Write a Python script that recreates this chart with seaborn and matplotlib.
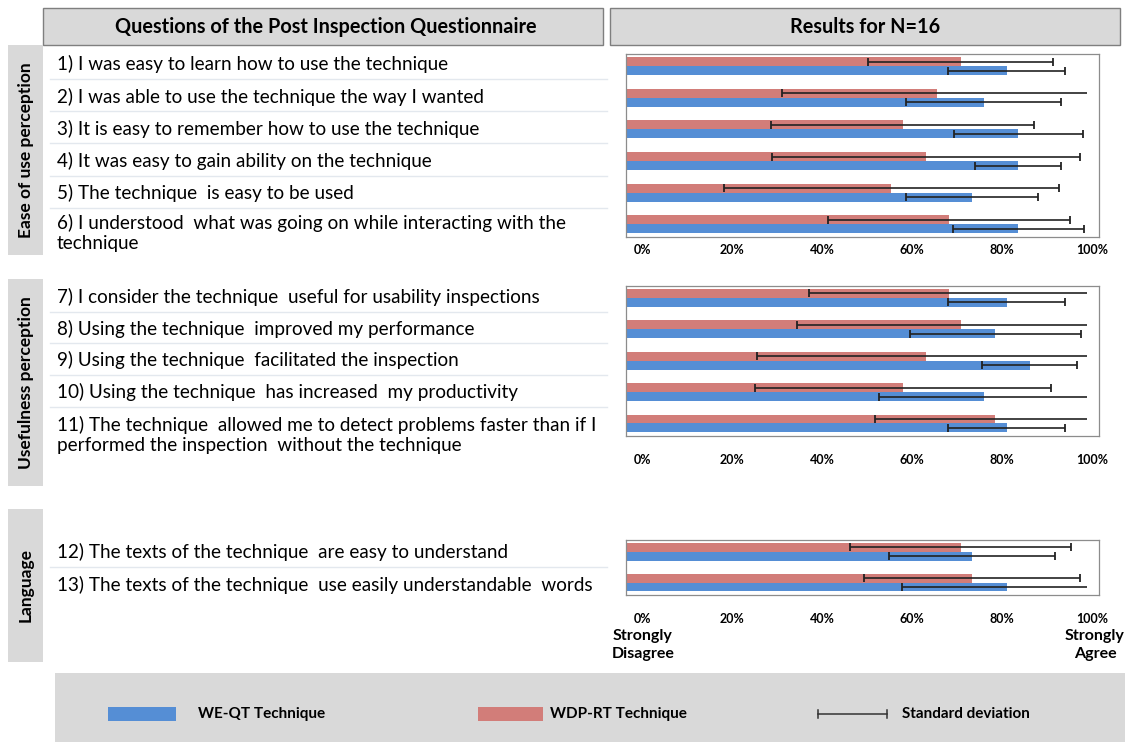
import numpy as np
import pandas as pd
import matplotlib
matplotlib.use("Agg")
import matplotlib.pyplot as plt
import matplotlib.transforms as mtransforms
from matplotlib.patches import Rectangle
from matplotlib.lines import Line2D
import seaborn as sns

# questions, grouped by perception category
questions = [
    "1) I was easy to learn how to use the technique",
    "2) I was able to use the technique the way I wanted",
    "3) It is easy to remember how to use the technique",
    "4) It was easy to gain ability on the technique",
    "5) The technique  is easy to be used",
    "6) I understood  what was going on while interacting with the\ntechnique",
    "7) I consider the technique  useful for usability inspections",
    "8) Using the technique  improved my performance",
    "9) Using the technique  facilitated the inspection",
    "10) Using the technique  has increased  my productivity",
    "11) The technique  allowed me to detect problems faster than if I\nperformed the inspection  without the technique",
    "12) The texts of the technique  are easy to understand",
    "13) The texts of the technique  use easily understandable  words",
]
groups = ["Ease of use perception", "Usefulness perception", "Language"]
group_sizes = [6, 5, 2]
techniques = ["WDP-RT Technique", "WE-QT Technique"]

we_qt_mean = [0.825, 0.775, 0.85, 0.85, 0.75, 0.85, 0.825, 0.80, 0.875, 0.775, 0.825, 0.75, 0.825]
we_qt_sd = [0.127, 0.168, 0.140, 0.093, 0.143, 0.142, 0.127, 0.185, 0.103, 0.226, 0.127, 0.179, 0.226]
wdp_rt_mean = [0.725, 0.675, 0.60, 0.65, 0.575, 0.70, 0.70, 0.725, 0.65, 0.60, 0.80, 0.725, 0.75]
wdp_rt_sd = [0.200, 0.337, 0.285, 0.334, 0.363, 0.263, 0.303, 0.355, 0.366, 0.321, 0.261, 0.239, 0.234]

tick_vals = [0, 0.2, 0.4, 0.6, 0.8, 1.0]
tick_labels = ["0%", "20%", "40%", "60%", "80%", "100%"]

RED = "#d27d79"
BLUE = "#558ed5"
GREY = "#d9d9d9"

group_col = np.repeat(groups, group_sizes)
df = pd.concat([
    pd.DataFrame({"question": questions, "group": group_col, "technique": techniques[0],
                  "mean": wdp_rt_mean, "sd": wdp_rt_sd}),
    pd.DataFrame({"question": questions, "group": group_col, "technique": techniques[1],
                  "mean": we_qt_mean, "sd": we_qt_sd}),
], ignore_index=True)

plt.rcParams['font.family'] = ['Lato', 'DejaVu Sans']

W, H = 1125, 742
fig = plt.figure(figsize=(W / 100, H / 100), dpi=100)


def fx(x):
    return x / W


def fy(y):
    return 1 - y / H


def box(x0, y0, x1, y1, fc, ec="none", lw=0):
    fig.add_artist(Rectangle((fx(x0), fy(y1)), fx(x1 - x0), (y1 - y0) / H,
                             transform=fig.transFigure, facecolor=fc, edgecolor=ec, linewidth=lw))


# headers
box(43, 8, 603, 45, GREY, "#7f7f7f", 1)
box(610, 8, 1120, 45, GREY, "#7f7f7f", 1)
fig.text(fx(326), fy(27), "Questions of the Post Inspection Questionnaire", ha="center", va="center",
         fontsize=14.3, fontweight="bold")
fig.text(fx(865), fy(27), "Results for N=16", ha="center", va="center", fontsize=14.3, fontweight="bold")

# category side boxes
side_boxes = [(45, 255), (279, 486), (509, 662)]
for g, (t, b) in zip(groups, side_boxes):
    box(8, t, 43, b, GREY)
    fig.text(fx(26), fy((t + b) / 2), g, rotation=90, ha="center", va="center",
             fontsize=12.5, fontweight="bold")

# question texts and separators
q_y = [64, 97, 129, 161, 193, 233, 297, 329, 360, 392, 435, 552, 585]
for q, y in zip(questions, q_y):
    fig.text(fx(57), fy(y), q, ha="left", va="center", fontsize=13.6, linespacing=1.25)
for y in [79, 111, 143, 176, 208, 312, 343, 375, 407, 567]:
    fig.add_artist(Line2D([fx(50), fx(607)], [fy(y), fy(y)], transform=fig.transFigure,
                          color="#e3e8ee", lw=1))

# bar panels
panels = [(54, 237, 5), (286, 436, 13), (540, 595, 13)]
for g, (top, bottom, pad) in zip(groups, panels):
    sub = df[df["group"] == g]
    ax = fig.add_axes([fx(626), fy(bottom), fx(1099 - 626), (bottom - top) / H])
    sns.barplot(data=sub, y="question", x="mean", hue="technique", hue_order=techniques,
                palette=[RED, BLUE], orient="h", width=0.57, gap=0, saturation=1,
                errorbar=None, legend=False, linewidth=0, ax=ax)
    for cont, tech in zip(ax.containers, techniques):
        d = sub[sub["technique"] == tech]
        ys = np.array([b.get_y() + b.get_height() / 2 for b in cont])
        m = d["mean"].to_numpy()
        s = d["sd"].to_numpy()
        lo = m - s
        hi = np.minimum(m + s, 1.0)
        ax.hlines(ys, lo, hi, color="#222222", lw=1.2, zorder=3)
        ax.plot(lo, ys, ls="none", marker="|", ms=6, mew=1.3, color="#222222", zorder=3)
        keep = (m + s) < 1.0
        ax.plot(hi[keep], ys[keep], ls="none", marker="|", ms=6, mew=1.3, color="#222222", zorder=3)
    n = len(sub) // 2
    ax.set_ylim(n - 1 + 0.40, -0.38)
    ax.set_xlim(0, 1.025)
    ax.set_yticks([])
    ax.set_ylabel("")
    ax.set_xlabel("")
    ax.set_xticks(tick_vals)
    ax.set_xticklabels(tick_labels, fontsize=9, fontweight="bold")
    ax.tick_params(axis="x", length=0, pad=pad)
    for i, lab in enumerate(ax.get_xticklabels()):
        offset = mtransforms.ScaledTranslation((16 - 2.2 * i) / 100, 0, fig.dpi_scale_trans)
        lab.set_transform(lab.get_transform() + offset)
    for sp in ax.spines.values():
        sp.set_color("#8c8c8c")
        sp.set_linewidth(0.9)

fig.text(fx(643), fy(645), "Strongly\nDisagree", ha="center", va="center", fontsize=11.5,
         fontweight="bold", linespacing=1.3)
fig.text(fx(1095), fy(645), "Strongly\nAgree", ha="center", va="center", fontsize=11.5,
         fontweight="bold", linespacing=1.3)

# legend strip
box(55, 673, 1125, 742, GREY)
box(108, 707, 176, 721, BLUE)
fig.text(fx(198), fy(714), "WE-QT Technique", ha="left", va="center", fontsize=11, fontweight="bold")
box(478, 707, 543, 721, RED)
fig.text(fx(550), fy(714), "WDP-RT Technique", ha="left", va="center", fontsize=11, fontweight="bold")
fig.add_artist(Line2D([fx(818), fx(887)], [fy(714), fy(714)], transform=fig.transFigure,
                      color="#333333", lw=1.1))
for x in (818, 887):
    fig.add_artist(Line2D([fx(x), fx(x)], [fy(710), fy(718)], transform=fig.transFigure,
                          color="#333333", lw=1.1))
fig.text(fx(902), fy(714), "Standard deviation", ha="left", va="center", fontsize=11, fontweight="bold")

fig.savefig("out.png", dpi=100)
